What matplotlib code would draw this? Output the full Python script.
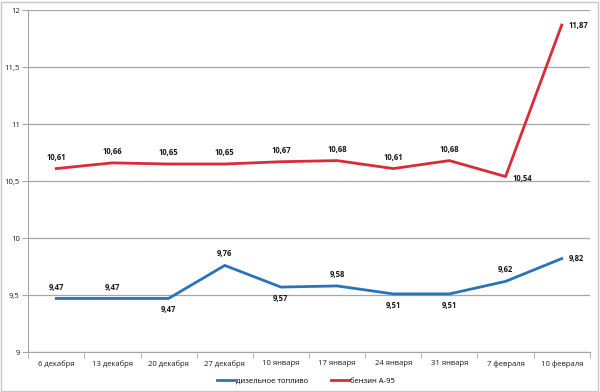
import matplotlib.pyplot as plt
import matplotlib.patches as mpatches
import numpy as np

dates = ["6 декабря", "13 декабря", "20 декабря", "27 декабря", "10 января",
         "17 января", "24 января", "31 января", "7 февраля", "10 февраля"]
diesel = [9.47, 9.47, 9.47, 9.76, 9.57, 9.58, 9.51, 9.51, 9.62, 9.82]
petrol = [10.61, 10.66, 10.65, 10.65, 10.67, 10.68, 10.61, 10.68, 10.54, 11.87]
diesel_pos = ["up", "up", "down", "up", "down", "up", "down", "down", "up", "right"]
petrol_pos = ["up", "up", "up", "up", "up", "up", "up", "up", "downright", "right"]

BLUE = "#2a73b8"
RED = "#d92b3a"
GRID = "#a6a6a6"

plt.rcParams["font.family"] = ["Open Sans", "DejaVu Sans"]

fig = plt.figure(figsize=(6, 3.92), dpi=100)
fig.patches.append(mpatches.Rectangle((0.002, 0.003), 0.995, 0.993, transform=fig.transFigure,
                                      fill=False, edgecolor="#c8c8c8", linewidth=1.0))
ax = fig.add_axes([0.047, 0.102, 0.936, 0.872])

x = np.arange(len(dates))
ax.plot(x, diesel, color=BLUE, linewidth=2, label="дизельное топливо")
ax.plot(x, petrol, color=RED, linewidth=2, label="бензин А-95")

offsets = {"up": (0, 5, "center", "bottom"), "down": (0, -5, "center", "top"),
           "right": (5, 0, "left", "center"), "downright": (5, -1.5, "left", "center")}


def fmt(v):
    return f"{v:.2f}".replace(".", ",")


for vals, pos in ((diesel, diesel_pos), (petrol, petrol_pos)):
    for xi, v, p in zip(x, vals, pos):
        dx, dy, ha, va = offsets[p]
        ax.annotate(fmt(v), (xi, v), xytext=(dx, dy), textcoords="offset points",
                    ha=ha, va=va, fontsize=5.5, fontweight="bold", color="#1a1a1a")

ax.set_xlim(-0.5, len(dates) - 0.5)
ax.set_ylim(9, 12)
yt = np.arange(9, 12.01, 0.5)
ax.set_yticks(yt)
ax.set_yticklabels([f"{v:g}".replace(".", ",") for v in yt], fontsize=5.5, color="#1a1a1a")
ax.set_xticks(x)
ax.set_xticklabels(dates, fontsize=5.5, color="#1a1a1a")
ax.set_xticks(np.arange(-0.5, len(dates)), minor=True)
ax.tick_params(axis="x", which="major", length=0, pad=6)
ax.tick_params(axis="x", which="minor", length=4, color=GRID)
ax.tick_params(axis="y", length=4, color=GRID, pad=2)
ax.grid(axis="y", color=GRID, linewidth=0.9)
ax.set_axisbelow(True)
for s in ("top", "right"):
    ax.spines[s].set_visible(False)
for s in ("left", "bottom"):
    ax.spines[s].set_color(GRID)

fig.legend(loc="lower center", bbox_to_anchor=(0.51, 0.0), ncol=2, frameon=False,
           fontsize=5.5, handlelength=2.4, handletextpad=0.1, columnspacing=3)

fig.savefig("out.png", dpi=100)
